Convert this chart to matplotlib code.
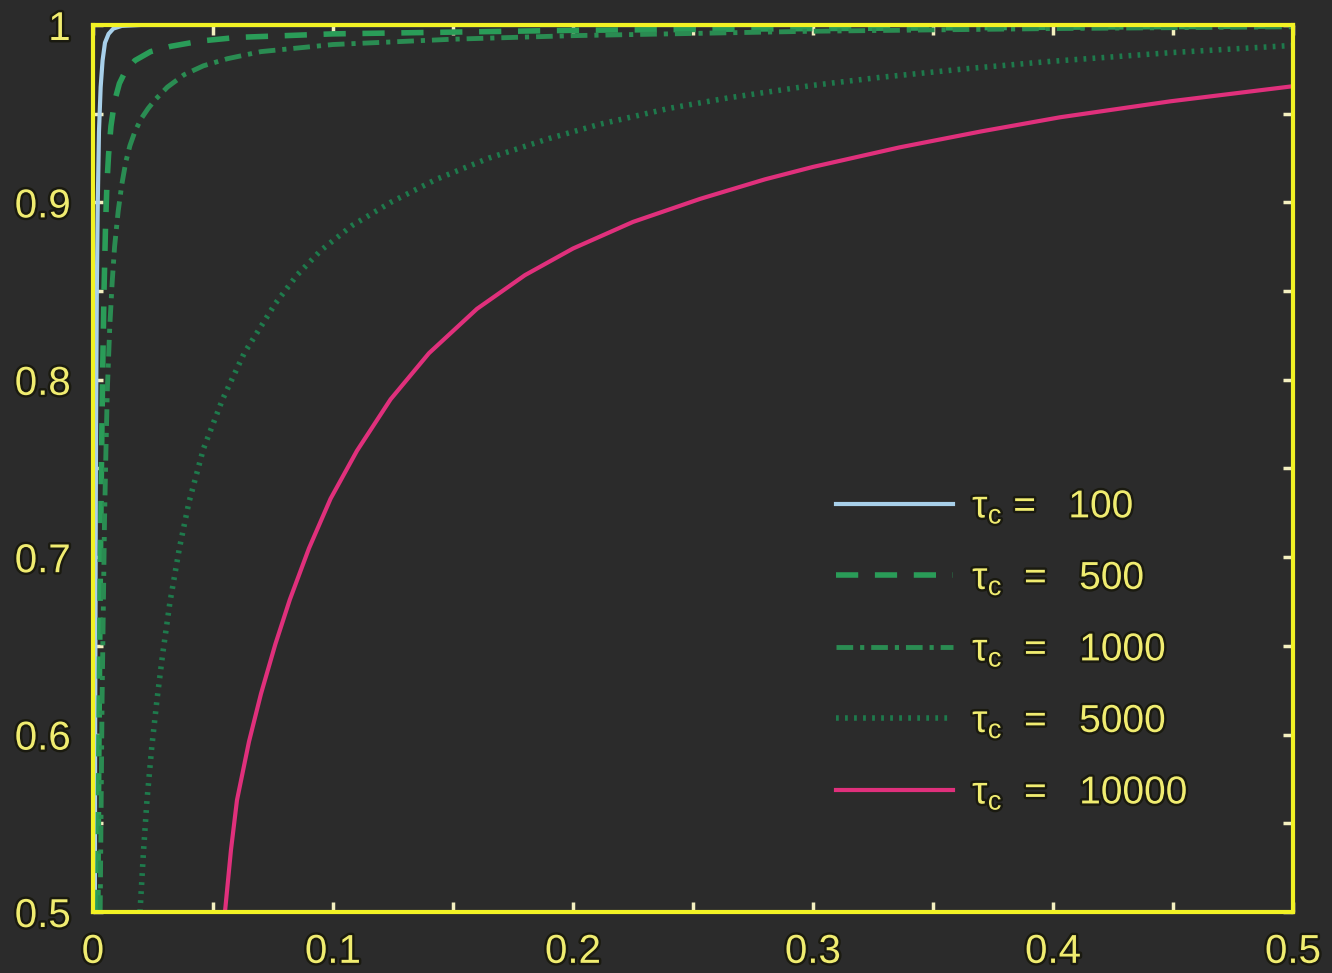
import numpy as np
import matplotlib
matplotlib.use('Agg')
import matplotlib.pyplot as plt
import matplotlib.patheffects as pe

plt.rcParams['font.family'] = ['Liberation Sans', 'DejaVu Sans']
plt.rcParams['mathtext.fontset'] = 'dejavusans'
plt.rcParams['mathtext.default'] = 'regular'
plt.rcParams['lines.scale_dashes'] = False

# values
x_100 = [0.0008, 0.0009, 0.0011, 0.0013, 0.0016, 0.002, 0.0025, 0.0032, 0.004, 0.005, 0.0065, 0.0085, 0.012, 0.02, 0.5]
y_100 = [0.5, 0.6, 0.7, 0.78, 0.85, 0.9, 0.94, 0.965, 0.98, 0.99, 0.995, 0.998, 0.9995, 1.0, 1.0]

x_500 = [0.002, 0.0024, 0.0028, 0.0032, 0.0036, 0.0041, 0.0046, 0.0052, 0.0058, 0.0065, 0.0075, 0.009,
         0.011, 0.0135, 0.0175, 0.024, 0.0325, 0.045, 0.06, 0.1, 0.2, 0.3, 0.5]
y_500 = [0.5, 0.58, 0.65, 0.71, 0.76, 0.81, 0.85, 0.885, 0.91, 0.927, 0.943, 0.957,
         0.967, 0.974, 0.98, 0.985, 0.988, 0.991, 0.993, 0.995, 0.997, 0.998, 0.9995]

x_1000 = [0.003, 0.0034, 0.0038, 0.0043, 0.0048, 0.0054, 0.006, 0.007, 0.008, 0.009, 0.0105, 0.012, 0.0137,
          0.0154, 0.0175, 0.02, 0.023, 0.026, 0.031, 0.038, 0.046, 0.056, 0.07, 0.1, 0.15, 0.2, 0.3, 0.4, 0.5]
y_1000 = [0.5, 0.56, 0.62, 0.67, 0.72, 0.76, 0.795, 0.83, 0.855, 0.875, 0.895, 0.91, 0.923,
          0.932, 0.94, 0.947, 0.953, 0.958, 0.965, 0.972, 0.977, 0.981, 0.985, 0.989, 0.992, 0.994, 0.9965, 0.998, 0.999]

x_5000 = [0.0196, 0.021, 0.0225, 0.0245, 0.0267, 0.029, 0.032, 0.036, 0.040, 0.046, 0.054, 0.063, 0.076, 0.085,
          0.095, 0.108, 0.124, 0.143, 0.165, 0.19, 0.211, 0.24, 0.265, 0.3, 0.328, 0.365, 0.399, 0.45, 0.5]
y_5000 = [0.5, 0.533, 0.563, 0.593, 0.62, 0.645, 0.674, 0.705, 0.731, 0.761, 0.789, 0.815, 0.843, 0.859,
          0.873, 0.887, 0.9, 0.913, 0.925, 0.936, 0.944, 0.953, 0.959, 0.966, 0.9705, 0.9755, 0.9795, 0.9845, 0.9885]

x_10000 = [0.055, 0.0575, 0.06, 0.065, 0.07, 0.076, 0.082, 0.09, 0.099, 0.11, 0.124, 0.14, 0.16, 0.18,
           0.2, 0.225, 0.253, 0.28, 0.3, 0.336, 0.37, 0.403, 0.449, 0.5]
y_10000 = [0.5, 0.535, 0.563, 0.596, 0.623, 0.651, 0.676, 0.705, 0.733, 0.76, 0.789, 0.815, 0.84, 0.859,
           0.874, 0.889, 0.902, 0.913, 0.92, 0.931, 0.94, 0.948, 0.957, 0.9655]

x_ticks = [0, 0.1, 0.2, 0.3, 0.4, 0.5]
x_tick_labels = ['0', '0.1', '0.2', '0.3', '0.4', '0.5']
y_ticks = [0.5, 0.6, 0.7, 0.8, 0.9, 1.0]
y_tick_labels = ['0.5', '0.6', '0.7', '0.8', '0.9', '1']
x_minor = [0.05, 0.15, 0.25, 0.35, 0.45]
y_minor = [0.55, 0.65, 0.75, 0.85, 0.95]

labels = [r'$\tau_c$ =   100', r'$\tau_c$  =   500', r'$\tau_c$  =   1000',
          r'$\tau_c$  =   5000', r'$\tau_c$  =   10000']

bg = '#2b2b2b'
yel = '#f2f224'
txt = '#f0ec70'
glow = [pe.withStroke(linewidth=3.5, foreground='#1a1a10')]

fig = plt.figure(figsize=(13.32, 9.73), dpi=100, facecolor=bg)
ax = fig.add_axes([0.0698, 0.0627, 0.9009, 0.9116], facecolor=bg)

ax.plot(x_100, y_100, color='#a8d0ea', lw=3, label=labels[0])
ax.plot(x_500, y_500, color='#2a9c58', lw=4, dashes=[16, 12], label=labels[1])
ax.plot(x_1000, y_1000, color='#2a8c52', lw=3.5, dashes=[12, 5, 3, 5], label=labels[2])
ax.plot(x_5000, y_5000, color='#1e7a4c', lw=4, dashes=[2, 4.5], label=labels[3])
ax.plot(x_10000, y_10000, color='#e0307c', lw=3, label=labels[4])

ax.set_xlim(0, 0.5)
ax.set_ylim(0.5, 1)
ax.set_xticks(x_ticks, x_tick_labels)
ax.set_yticks(y_ticks, y_tick_labels)
ax.set_xticks(x_minor, minor=True)
ax.set_yticks(y_minor, minor=True)

for s in ax.spines.values():
    s.set_color(yel)
    s.set_linewidth(3)

ax.tick_params(which='both', direction='in', top=True, right=True,
               color='#f4f0c0', width=2.5, length=7, labelsize=29, labelcolor=txt)
ax.tick_params(axis='x', which='major', pad=15)
ax.tick_params(axis='y', which='major', pad=16)
for lab in ax.get_xticklabels() + ax.get_yticklabels():
    lab.set_path_effects(glow)

leg = ax.legend(loc='upper left', bbox_to_anchor=(0.59, 0.517), frameon=False,
                fontsize=28, handlelength=3.0, labelspacing=0.88, handletextpad=0.5)
for t in leg.get_texts():
    t.set_color(txt)
    t.set_path_effects(glow)

fig.savefig('out.png', dpi=100, facecolor=bg)
